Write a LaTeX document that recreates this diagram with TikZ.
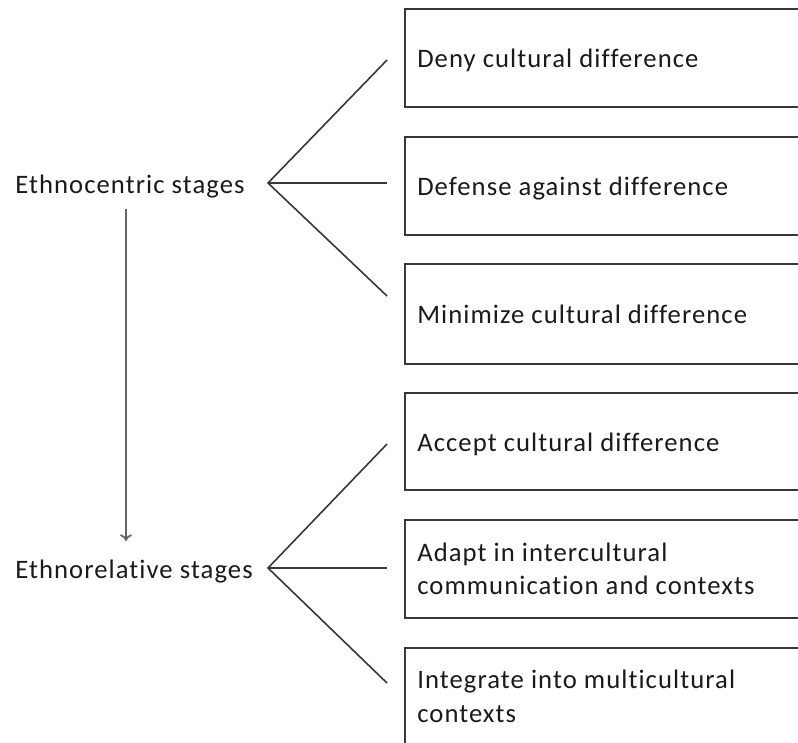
\documentclass[tikz,border=0pt]{standalone}
\usepackage{fontspec}
\setmainfont{Carlito}[Ligatures={NoCommon},LetterSpace=4]
\usetikzlibrary{arrows.meta}
\definecolor{txt}{HTML}{1A1A1A}
\definecolor{ln}{HTML}{383838}
\definecolor{arr}{HTML}{666666}
\begin{document}
\begin{tikzpicture}[x=0.75pt,y=-0.75pt,
  lbl/.style={font=\fontsize{20}{25}\selectfont,text=txt,inner sep=0pt,anchor=base west},
  stagebox/.style={draw=ln,line width=1.2pt},
  fork/.style={draw=ln,line width=1.2pt},
  flow/.style={draw=arr,line width=1.3pt,-{To[length=5pt,width=9pt]}}]
\useasboundingbox (0,0) rectangle (798,742);
\clip (0,0) rectangle (798,742);
% boxes
\draw[stagebox] (405,9) rectangle (820,107);
\draw[stagebox] (405,137) rectangle (820,235);
\draw[stagebox] (405,264) rectangle (820,364);
\draw[stagebox] (405,393) rectangle (820,490);
\draw[stagebox] (405,520) rectangle (820,618);
\draw[stagebox] (405,648) rectangle (820,760);
% box texts
\node[lbl] (b1) at (417,68) {Deny cultural difference};
\node[lbl] (b2) at (417,195) {Defense against difference};
\node[lbl] (b3) at (417,323) {Minimize cultural difference};
\node[lbl] (b4) at (417,451) {Accept cultural difference};
\node[lbl] (b5a) at (417,561) {Adapt in intercultural};
\node[lbl] (b5b) at (417,594) {communication and contexts};
\node[lbl] (b6a) at (417,688) {Integrate into multicultural};
\node[lbl] (b6b) at (417,722) {contexts};
% stage labels
\node[lbl] (ec) at (15,193) {Ethnocentric stages};
\node[lbl] (er) at (15,578) {Ethnorelative stages};
% fork coordinates
\coordinate (v1) at (268,183);
\coordinate (e1) at (387,60);
\coordinate (e2) at (387,183);
\coordinate (e3) at (387,296);
\coordinate (v2) at (268,568);
\coordinate (e4) at (387,444);
\coordinate (e5) at (387,568);
\coordinate (e6) at (387,683);
\draw[fork] (e1) -- (v1) -- (e3);
\draw[fork] (v1) -- (e2);
\draw[fork] (e4) -- (v2) -- (e6);
\draw[fork] (v2) -- (e5);
% arrow
\coordinate (a1) at (126,209);
\coordinate (a2) at (126,541);
\draw[flow] (a1) -- (a2);
\end{tikzpicture}
\end{document}
